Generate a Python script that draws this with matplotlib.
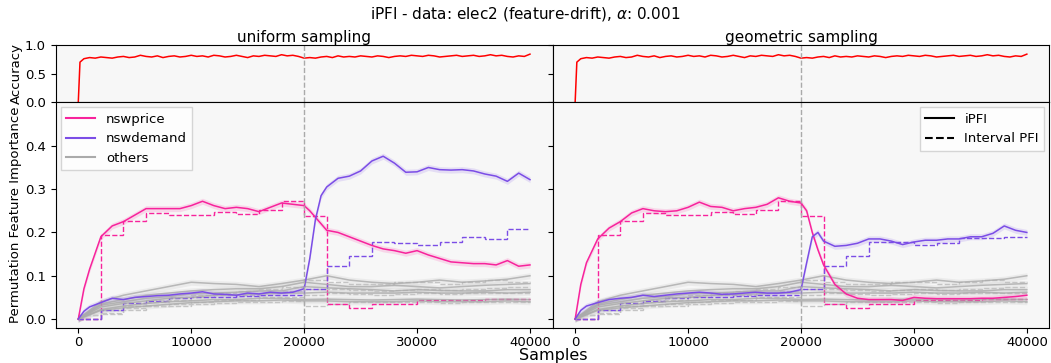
import numpy as np
import matplotlib
matplotlib.use("Agg")
import matplotlib.pyplot as plt
from matplotlib.lines import Line2D

# --- données ---
# positions des échantillons pour les courbes iPFI
samples = [0, 500, 1000, 2000, 3000, 4000, 5000, 6000, 7000, 8000, 9000, 10000,
           11000, 12000, 13000, 14000, 15000, 16000, 17000, 18000, 19000, 20000,
           20500, 21000, 21500, 22000, 23000, 24000, 25000, 26000, 27000, 28000,
           29000, 30000, 31000, 32000, 33000, 34000, 35000, 36000, 37000, 38000,
           39000, 40000]

# uniform sampling
uni_price = [0.0, 0.07, 0.115, 0.19, 0.215, 0.225, 0.24, 0.255, 0.255, 0.255, 0.255, 0.262,
             0.272, 0.262, 0.255, 0.258, 0.255, 0.248, 0.258, 0.268, 0.265, 0.262,
             0.25, 0.235, 0.22, 0.205, 0.2, 0.19, 0.18, 0.17, 0.162, 0.158,
             0.152, 0.158, 0.148, 0.14, 0.132, 0.13, 0.128, 0.128, 0.125, 0.135,
             0.122, 0.125]
uni_demand = [0.0, 0.018, 0.028, 0.038, 0.048, 0.045, 0.05, 0.052, 0.054, 0.055, 0.058, 0.06,
              0.063, 0.058, 0.057, 0.055, 0.06, 0.058, 0.062, 0.06, 0.062, 0.07,
              0.14, 0.23, 0.285, 0.305, 0.325, 0.33, 0.342, 0.365, 0.376, 0.36,
              0.339, 0.34, 0.35, 0.345, 0.344, 0.345, 0.342, 0.335, 0.33, 0.318,
              0.337, 0.322]

# geometric sampling
geo_price = [0.0, 0.08, 0.13, 0.185, 0.21, 0.225, 0.245, 0.255, 0.25, 0.248, 0.25, 0.258,
             0.27, 0.26, 0.258, 0.25, 0.255, 0.258, 0.265, 0.28, 0.272, 0.268,
             0.25, 0.2, 0.16, 0.125, 0.08, 0.058, 0.048, 0.045, 0.045, 0.045,
             0.043, 0.05, 0.048, 0.047, 0.047, 0.047, 0.047, 0.048, 0.048, 0.05,
             0.052, 0.055]
geo_demand = [0.0, 0.02, 0.03, 0.038, 0.045, 0.048, 0.05, 0.055, 0.052, 0.055, 0.058, 0.06,
              0.062, 0.06, 0.057, 0.058, 0.06, 0.062, 0.06, 0.06, 0.062, 0.068,
              0.13, 0.19, 0.2, 0.18, 0.168, 0.17, 0.175, 0.185, 0.185, 0.18,
              0.172, 0.178, 0.182, 0.182, 0.185, 0.185, 0.19, 0.19, 0.198, 0.215,
              0.205, 0.2]

# autres variables (valeurs toutes les 2000 échantillons)
others_x = [0, 2000, 4000, 6000, 8000, 10000, 12000, 14000, 16000, 18000, 20000,
            22000, 24000, 26000, 28000, 30000, 32000, 34000, 36000, 38000, 40000]
others = [
    [0, 0.04, 0.055, 0.065, 0.075, 0.085, 0.082, 0.08, 0.075, 0.082, 0.09, 0.1, 0.09, 0.085, 0.082, 0.085, 0.09, 0.085, 0.088, 0.092, 0.1],
    [0, 0.035, 0.045, 0.055, 0.06, 0.065, 0.068, 0.07, 0.07, 0.075, 0.085, 0.08, 0.075, 0.075, 0.078, 0.075, 0.072, 0.075, 0.078, 0.08, 0.082],
    [0, 0.032, 0.04, 0.048, 0.052, 0.058, 0.06, 0.062, 0.065, 0.065, 0.075, 0.072, 0.07, 0.068, 0.065, 0.068, 0.066, 0.065, 0.065, 0.068, 0.068],
    [0, 0.028, 0.036, 0.042, 0.048, 0.05, 0.055, 0.056, 0.058, 0.06, 0.06, 0.062, 0.06, 0.06, 0.06, 0.062, 0.06, 0.06, 0.062, 0.06, 0.062],
    [0, 0.022, 0.03, 0.036, 0.04, 0.042, 0.045, 0.045, 0.048, 0.048, 0.045, 0.046, 0.045, 0.044, 0.045, 0.046, 0.045, 0.044, 0.045, 0.046, 0.045],
    [0, 0.02, 0.026, 0.03, 0.034, 0.038, 0.04, 0.042, 0.042, 0.044, 0.042, 0.042, 0.04, 0.04, 0.04, 0.042, 0.04, 0.04, 0.04, 0.042, 0.04],
]

# Interval PFI (une valeur par intervalle de 2000)
interval_edges = others_x
int_price = [0.0, 0.193, 0.226, 0.244, 0.24, 0.24, 0.248, 0.242, 0.252, 0.272,
             0.237, 0.034, 0.025, 0.034, 0.034, 0.044, 0.044, 0.044, 0.047, 0.047]
int_demand_uni = [0.0, 0.022, 0.038, 0.042, 0.048, 0.05, 0.05, 0.053, 0.055, 0.055,
                  0.07, 0.122, 0.146, 0.178, 0.175, 0.17, 0.179, 0.19, 0.186, 0.209]
int_demand_geo = [0.0, 0.022, 0.038, 0.042, 0.048, 0.05, 0.05, 0.053, 0.055, 0.055,
                  0.07, 0.122, 0.146, 0.178, 0.178, 0.172, 0.175, 0.187, 0.187, 0.19]
int_others = [
    [0.01, 0.02, 0.03, 0.045, 0.05, 0.055, 0.06, 0.065, 0.07, 0.075, 0.09, 0.085, 0.08, 0.08, 0.085, 0.085, 0.08, 0.085, 0.09, 0.085],
    [0.01, 0.02, 0.03, 0.04, 0.045, 0.05, 0.055, 0.055, 0.06, 0.065, 0.07, 0.07, 0.068, 0.065, 0.068, 0.07, 0.068, 0.07, 0.072, 0.075],
    [0.0, 0.015, 0.025, 0.03, 0.035, 0.04, 0.045, 0.045, 0.05, 0.05, 0.055, 0.06, 0.058, 0.055, 0.058, 0.06, 0.058, 0.06, 0.06, 0.06],
    [0.0, 0.012, 0.02, 0.03, 0.03, 0.035, 0.038, 0.04, 0.04, 0.042, 0.03, 0.035, 0.04, 0.04, 0.04, 0.04, 0.038, 0.04, 0.04, 0.04],
]

# précision du modèle (toutes les 500 échantillons)
acc_x = [0, 150] + list(range(500, 40001, 500))
accuracy = [0.0, 0.70,
            0.76, 0.78, 0.77, 0.79, 0.78, 0.77, 0.79, 0.80, 0.78, 0.79,
            0.82, 0.80, 0.79, 0.81, 0.78, 0.80, 0.81, 0.79, 0.80, 0.82,
            0.80, 0.81, 0.79, 0.82, 0.81, 0.79, 0.80, 0.82, 0.80, 0.78,
            0.81, 0.80, 0.82, 0.81, 0.80, 0.83, 0.81, 0.82, 0.80, 0.77,
            0.78, 0.77, 0.79, 0.80, 0.78, 0.81, 0.79, 0.80, 0.79, 0.81,
            0.80, 0.79, 0.81, 0.80, 0.78, 0.80, 0.81, 0.80, 0.82, 0.81,
            0.80, 0.82, 0.81, 0.79, 0.80, 0.81, 0.82, 0.80, 0.81, 0.82,
            0.80, 0.81, 0.83, 0.81, 0.82, 0.80, 0.79, 0.81, 0.80, 0.84]

drift_at = 20000
band = 0.007  # demi-largeur de la bande d'incertitude

PINK = "#f7239c"
PURPLE = "#7b4de6"
GREY = "#aaaaaa"
GREY_DASH = "#c4c4c4"
BG = "#f7f7f7"

plt.rcParams["font.family"] = "DejaVu Sans"

fig, axes = plt.subplots(2, 2, figsize=(10.51, 3.63), dpi=100, sharex=True,
                         gridspec_kw={"height_ratios": [1, 3.96], "hspace": 0, "wspace": 0,
                                      "left": 0.053, "right": 0.9985, "top": 0.876, "bottom": 0.096})

panels = [
    ("uniform sampling", uni_price, uni_demand, int_demand_uni),
    ("geometric sampling", geo_price, geo_demand, int_demand_geo),
]

for col, (title, price, demand, int_demand) in enumerate(panels):
    ax_acc = axes[0, col]
    ax = axes[1, col]

    # précision
    ax_acc.set_facecolor(BG)
    ax_acc.plot(acc_x, accuracy, color="red", lw=1.1)
    ax_acc.axvline(drift_at, color="#aaaaaa", ls="--", lw=1)
    ax_acc.set_ylim(0, 1)
    ax_acc.set_yticks([0, 0.5, 1.0])
    ax_acc.set_title(title, fontsize=11, pad=1.5)

    # importance
    ax.set_facecolor(BG)
    for g in others:
        ax.fill_between(others_x, np.array(g) - band, np.array(g) + band, color=GREY, alpha=0.15, lw=0)
        ax.plot(others_x, g, color=GREY, lw=1.1, alpha=0.8)
    for g in int_others:
        ax.stairs(g, interval_edges, baseline=None, color=GREY_DASH, ls="--", lw=1)

    ax.fill_between(samples, np.array(price) - band, np.array(price) + band, color=PINK, alpha=0.15, lw=0)
    ax.fill_between(samples, np.array(demand) - band, np.array(demand) + band, color=PURPLE, alpha=0.15, lw=0)
    ax.plot(samples, price, color=PINK, lw=1.1)
    ax.plot(samples, demand, color=PURPLE, lw=1.1)
    ax.stairs(int_price, interval_edges, baseline=None, color=PINK, ls="--", lw=1)
    ax.stairs(int_demand, interval_edges, baseline=None, color=PURPLE, ls="--", lw=1)

    ax.axvline(drift_at, color="#aaaaaa", ls="--", lw=1)
    ax.set_ylim(-0.021, 0.501)
    ax.set_yticks([0, 0.1, 0.2, 0.3, 0.4])
    ax.set_xlim(-2000, 42000)
    ax.set_xticks([0, 10000, 20000, 30000, 40000])

    for a in (ax_acc, ax):
        a.tick_params(labelsize=9.5)
    ax.tick_params(axis="x", pad=2.5)
    if col == 1:
        ax_acc.tick_params(labelleft=False)
        ax.tick_params(labelleft=False)

axes[0, 0].set_ylabel("Accuracy", fontsize=9.5)
axes[1, 0].set_ylabel("Permutation Feature Importance", fontsize=9.5)
axes[1, 0].yaxis.set_label_coords(-0.067, 0.5)
axes[0, 0].yaxis.set_label_coords(-0.067, 0.5)

# légendes
leg1 = [Line2D([], [], color=PINK, lw=1.5, label="nswprice"),
        Line2D([], [], color=PURPLE, lw=1.5, label="nswdemand"),
        Line2D([], [], color=GREY, lw=1.5, label="others")]
axes[1, 0].legend(handles=leg1, loc="upper left", fontsize=9.5, fancybox=False,
                  framealpha=0.8, borderaxespad=0.4, handlelength=2.2)
leg2 = [Line2D([], [], color="black", lw=1.5, label="iPFI"),
        Line2D([], [], color="black", lw=1.5, ls="--", label="Interval PFI")]
axes[1, 1].legend(handles=leg2, loc="upper right", fontsize=9.5, fancybox=False,
                  framealpha=0.8, borderaxespad=0.4, handlelength=2.2)

fig.suptitle(r"iPFI - data: elec2 (feature-drift), $\alpha$: 0.001", fontsize=11, y=0.985)
fig.text(0.526, 0.0, "Samples", ha="center", va="bottom", fontsize=11.5)

plt.savefig("out.png", dpi=100)
